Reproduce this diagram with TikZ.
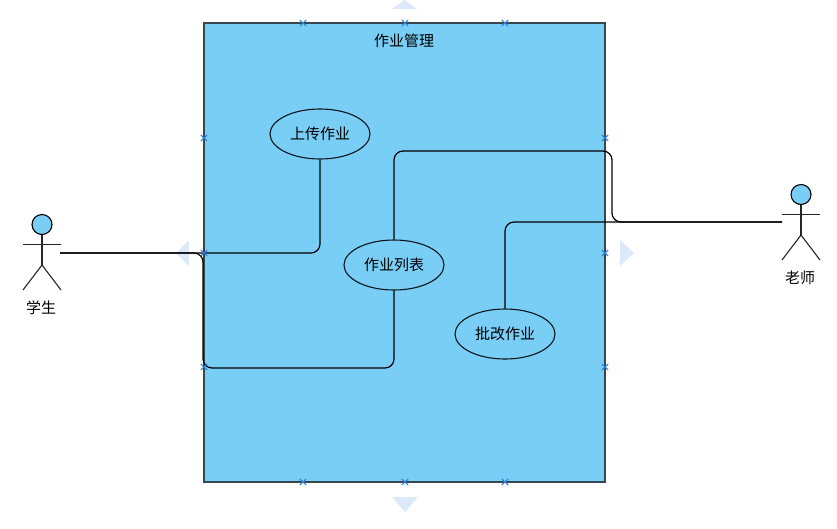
\documentclass[tikz,border=0pt]{standalone}
\usepackage{fontspec}
\setmainfont{Noto Sans CJK SC}
\usetikzlibrary{shapes.geometric}
\definecolor{sysblue}{HTML}{79CEF6}
\definecolor{sysline}{HTML}{37474F}
\definecolor{hintblue}{HTML}{DCE9FB}
\definecolor{markblue}{HTML}{2A7FDC}
\tikzset{
  usecase/.style={ellipse,draw=black!90!sysblue,fill=sysblue,line width=1.1pt,minimum width=100pt,minimum height=50pt,inner sep=0pt,text depth=0pt,font=\fontsize{15}{17}\selectfont},
  namelabel/.style={font=\fontsize{15}{17}\selectfont,inner sep=0pt},
  actorhead/.style={circle,draw=black,fill=sysblue,line width=1.1pt,minimum size=20pt,inner sep=0pt},
  limb/.style={draw=black!85,line width=1.1pt},
  wire/.style={draw=black,line width=1.2pt,rounded corners=9pt},
  hint/.style={fill=hintblue,draw=none}
}
\newcommand{\markx}[2]{\draw[markblue,line width=1pt] (#1-3.2,#2-3) -- (#1+3.2,#2+3) (#1-3.2,#2+3) -- (#1+3.2,#2-3);}
\begin{document}
\begin{tikzpicture}[x=1pt,y=-1pt]
\useasboundingbox (0,0) rectangle (837,528);
\fill[white] (0,0) rectangle (837,528);
\fill[hint] (404.5,0) -- (392,9) -- (417,9) -- cycle; %resize hints
\fill[hint] (392,497) -- (418,497) -- (405,512) -- cycle;
\fill[hint] (176,253) -- (189,240) -- (189,266) -- cycle;
\fill[hint] (620,240) -- (634,253) -- (620,266) -- cycle;
\filldraw[fill=sysblue,draw=sysline,line width=1.3pt] (204,23) rectangle (605,482); %system box
\node[namelabel] (sysname) at (404,40.5) {作业管理};
\node[usecase] (upload) at (320,134) {\raisebox{2.2pt}{上传作业}}; %use cases
\node[usecase] (worklist) at (394,265) {\raisebox{2.2pt}{作业列表}};
\node[usecase] (grade) at (505,334) {\raisebox{2.2pt}{批改作业}};
\node[actorhead] (studenthead) at (42,224.5) {}; %student
\coordinate (studentneck) at (42,265);
\draw[limb] (studenthead.south) -- (studentneck);
\draw[limb] (23,244.5) -- (61,244.5);
\draw[limb] (23,290) -- (studentneck) -- (61,290);
\node[namelabel] (studentname) at (41,307.5) {学生};
\coordinate (studentport) at (60,253);
\node[actorhead] (teacherhead) at (801,194.5) {}; %teacher
\coordinate (teacherneck) at (801,235);
\draw[limb] (teacherhead.south) -- (teacherneck);
\draw[limb] (782,214.5) -- (820,214.5);
\draw[limb] (782,260) -- (teacherneck) -- (820,260);
\node[namelabel] (teachername) at (800,277.5) {老师};
\coordinate (teacherport) at (782,222);
\draw[wire] (studentport) -| (upload.south); %connectors
\draw[wire] (studentport) -- (203,253) -- (203,368) -- (394,368) -- (worklist.south);
\draw[wire] (teacherport) -- (612,222) -- (612,151) -- (394,151) -- (worklist.north);
\draw[wire] (teacherport) -| (grade.north);
\foreach \xpos in {303,405,505} { %handles
  \markx{\xpos}{23}
  \markx{\xpos}{482}
}
\foreach \ypos in {138,253,367} {
  \markx{204}{\ypos}
  \markx{605}{\ypos}
}
\end{tikzpicture}
\end{document}
